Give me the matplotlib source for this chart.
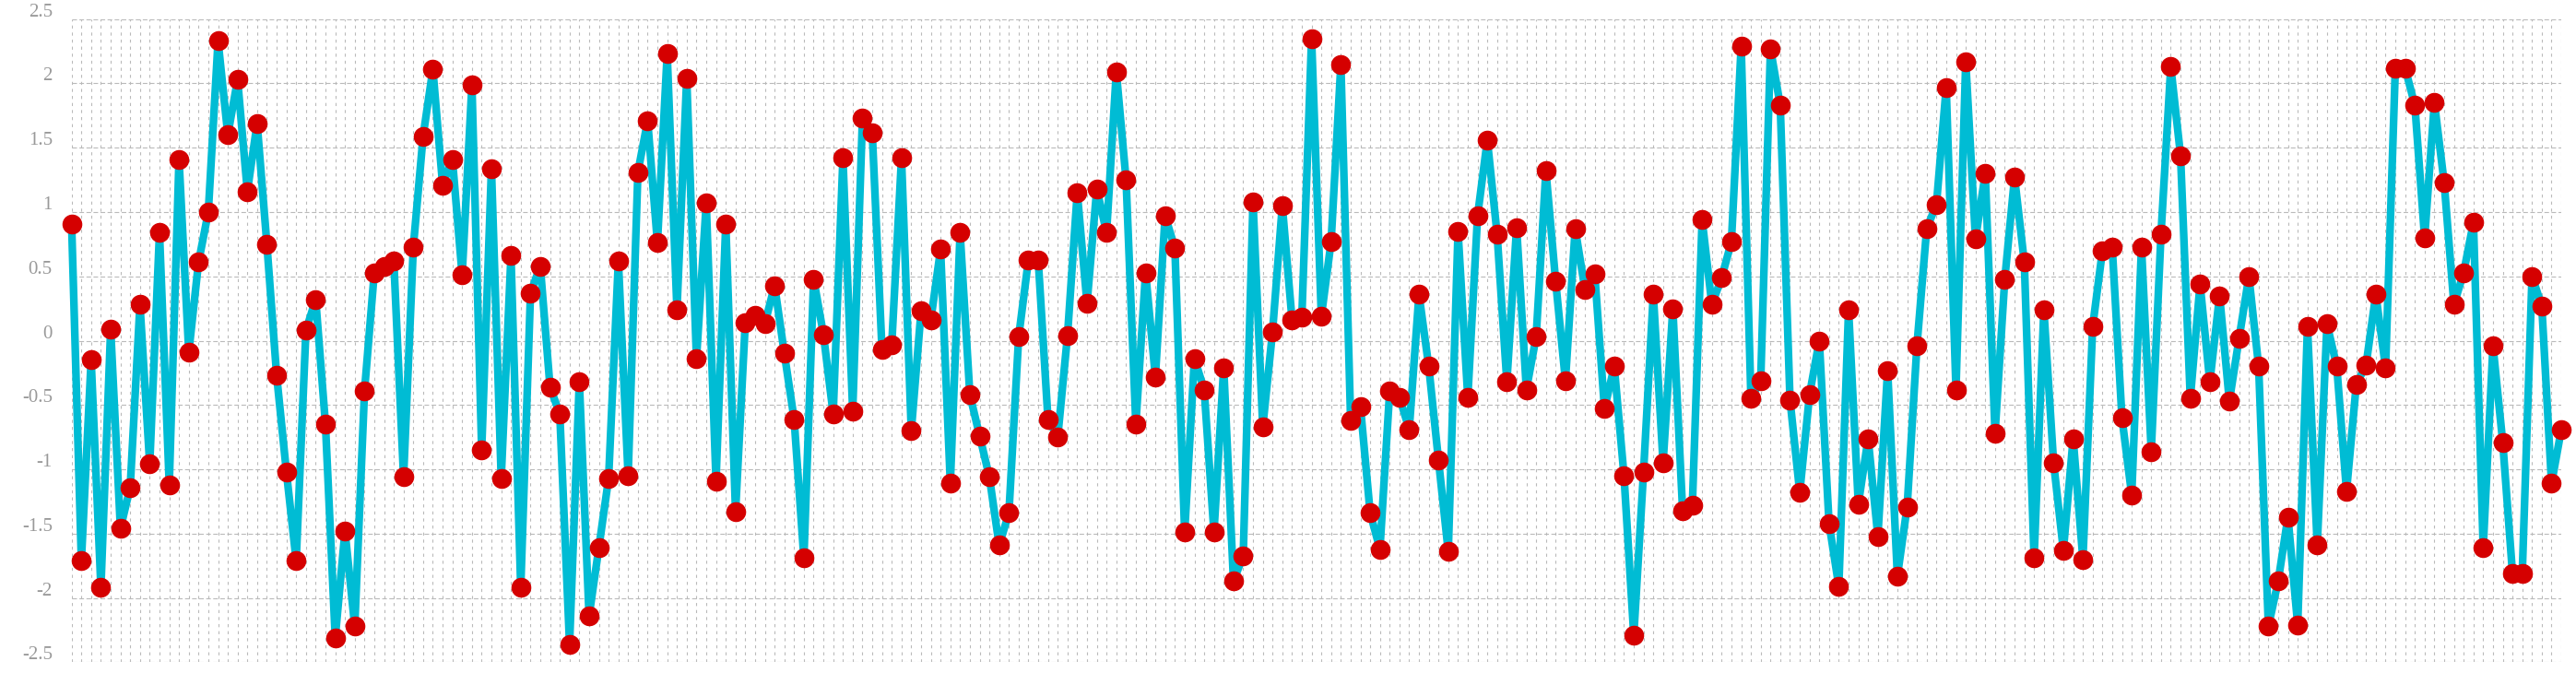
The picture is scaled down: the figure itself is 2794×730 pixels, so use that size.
import numpy as np
import matplotlib
matplotlib.use("Agg")
import matplotlib.pyplot as plt
from matplotlib.transforms import ScaledTranslation

# valores (256 pontos, eixo x sem rótulos)
valores = [
    0.91, -1.71, -0.15, -1.92, 0.09, -1.46, -1.14, 0.28, -0.96, 0.84,
    -1.12, 1.41, -0.09, 0.61, 1.00, 2.33, 1.60, 2.03, 1.16, 1.69,
    0.75, -0.27, -1.02, -1.71, 0.08, 0.32, -0.65, -2.31, -1.48, -2.22,
    -0.39, 0.53, 0.58, 0.62, -1.06, 0.73, 1.59, 2.11, 1.21, 1.41,
    0.51, 1.99, -0.85, 1.34, -1.07, 0.66, -1.92, 0.37, 0.58, -0.36,
    -0.57, -2.36, -0.32, -2.14, -1.61, -1.07, 0.62, -1.05, 1.31, 1.71,
    0.76, 2.23, 0.24, 2.04, -0.14, 1.07, -1.09, 0.91, -1.33, 0.14,
    0.20, 0.13, 0.43, -0.10, -0.61, -1.69, 0.48, 0.05, -0.57, 1.42,
    -0.55, 1.73, 1.62, -0.07, -0.03, 1.42, -0.70, 0.23, 0.16, 0.71,
    -1.11, 0.84, -0.42, -0.74, -1.06, -1.59, -1.34, 0.03, 0.63, 0.63,
    -0.61, -0.75, 0.04, 1.15, 0.29, 1.18, 0.84, 2.09, 1.25, -0.65,
    0.53, -0.28, 0.97, 0.72, -1.49, -0.14, -0.38, -1.49, -0.21, -1.87,
    -1.67, 1.08, -0.67, 0.07, 1.05, 0.16, 0.18, 2.35, 0.19, 0.77,
    2.15, -0.62, -0.51, -1.34, -1.62, -0.39, -0.44, -0.69, 0.36, -0.20,
    -0.93, -1.64, 0.85, -0.44, 0.97, 1.56, 0.83, -0.32, 0.88, -0.38,
    0.03, 1.32, 0.46, -0.31, 0.87, 0.40, 0.52, -0.53, -0.20, -1.05,
    -2.29, -1.02, 0.36, -0.95, 0.25, -1.32, -1.28, 0.94, 0.28, 0.49,
    0.77, 2.29, -0.45, -0.31, 2.27, 1.83, -0.46, -1.18, -0.42, 0.00,
    -1.42, -1.91, 0.24, -1.27, -0.76, -1.52, -0.23, -1.83, -1.29, -0.04,
    0.87, 1.06, 1.97, -0.38, 2.17, 0.79, 1.30, -0.72, 0.48, 1.27,
    0.61, -1.69, 0.24, -0.95, -1.63, -0.76, -1.70, 0.11, 0.70, 0.73,
    -0.60, -1.20, 0.73, -0.86, 0.83, 2.13, 1.44, -0.45, 0.44, -0.32,
    0.35, -0.47, 0.02, 0.50, -0.20, -2.22, -1.87, -1.37, -2.21, 0.11,
    -1.59, 0.13, -0.20, -1.17, -0.34, -0.19, 0.36, -0.21, 2.12, 2.12,
    1.83, 0.80, 1.85, 1.23, 0.28, 0.53, 0.92, -1.61, -0.04, -0.79,
    -1.81, -1.81, 0.50, 0.27, -1.11, -0.69,
]

y_ticks = [2.5, 2, 1.5, 1, 0.5, 0, -0.5, -1, -1.5, -2, -2.5]
y_labels = ["2.5", "2", "1.5", "1", "0.5", "0", "-0.5", "-1", "-1.5", "-2", "-2.5"]


def desenhar():
    plt.rcParams["lines.scale_dashes"] = False

    fig = plt.figure(figsize=(27.94, 7.3), dpi=100)
    ax = fig.add_axes([0.0278, 0.016, 0.9665, 0.9556])

    x = np.arange(len(valores))
    ax.plot(x, valores, color="#00bcd4", lw=6, solid_joinstyle="round",
            zorder=3, clip_on=False)
    ax.plot(x, valores, "o", color="#d50000", ms=14.5, zorder=4, clip_on=False)

    ax.set_xlim(0, len(valores) - 1)
    ax.set_ylim(-2.5, 2.5)
    ax.set_xticks(x)
    ax.set_yticks(y_ticks)
    ax.set_yticklabels(y_labels, family="Liberation Serif", fontsize=15, color="#999999")
    ax.tick_params(length=0, labelbottom=False, pad=15)

    # rótulos ficam um pouco acima da linha de grade
    sobe = ScaledTranslation(0, 10 / 100, fig.dpi_scale_trans)
    for lbl in ax.get_yticklabels():
        lbl.set_transform(lbl.get_transform() + sobe)

    for s in ax.spines.values():
        s.set_visible(False)

    ax.grid(axis="x", color="#bababa", lw=0.8, linestyle=(0, (2.4, 3.1)))
    ax.grid(axis="y", color="#bababa", lw=0.8, linestyle=(0, (3.6, 1.9)))
    ax.set_axisbelow(True)

    fig.savefig("out.png", dpi=100)


if __name__ == "__main__":
    desenhar()
